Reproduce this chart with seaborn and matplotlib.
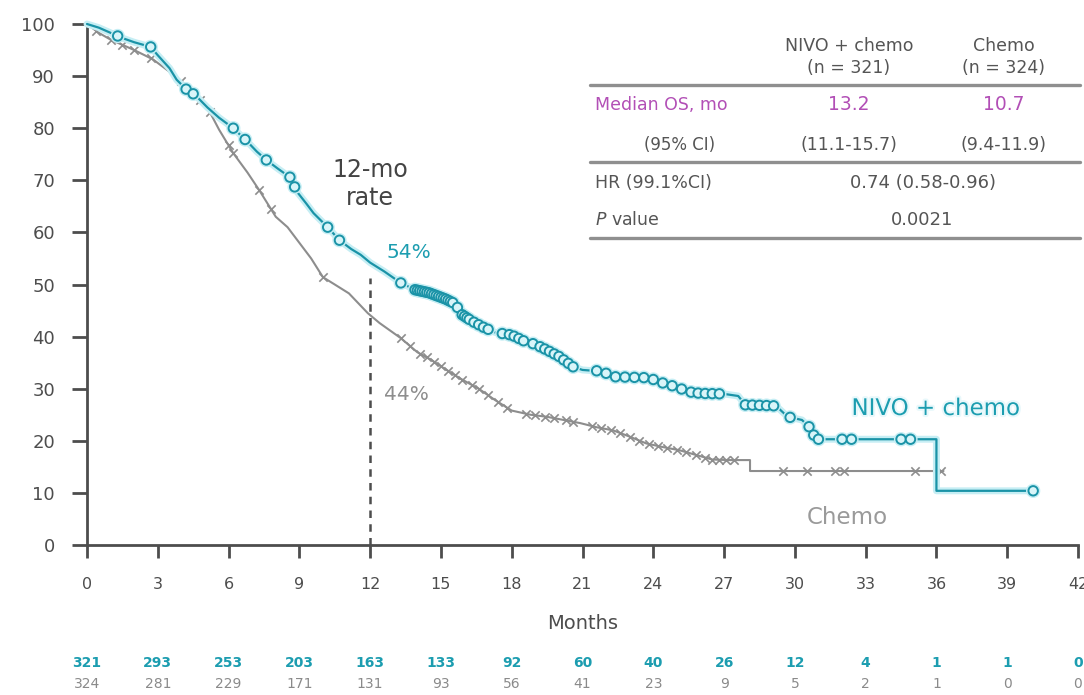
import numpy as np
import pandas as pd
import matplotlib
matplotlib.use("Agg")
import matplotlib.pyplot as plt
import matplotlib.patheffects as pe
from matplotlib.lines import Line2D
import seaborn as sns

# ---- Kaplan-Meier curve vertices (months, % surviving) ----
nivo_t = [0, 0.5, 1.0, 1.5, 2.0, 2.7, 3.0, 3.5, 3.8, 4.2, 4.6, 5.1, 5.6, 6.2, 6.8,
          7.2, 7.6, 8.1, 8.6, 8.9, 9.3, 9.6, 10.2, 10.7, 11.2, 11.6, 12.0, 12.6,
          13.3, 13.9, 14.5, 15.2, 15.6, 15.9, 16.3, 16.8, 17.3, 18.0, 18.5, 19.0,
          19.5, 20.0, 20.6, 21.0, 21.3, 21.8, 22.3, 23.0, 23.8, 24.4, 25.0, 25.5,
          26.0, 27.0, 27.6, 27.9, 29.2, 29.7, 30.3, 30.6, 30.9, 36.0, 36.0, 40.1]
nivo_s = [100, 99.3, 98.3, 97.3, 96.5, 95.6, 94.0, 91.5, 89.3, 87.5, 86.3, 84.0,
          82.0, 80.0, 77.4, 75.5, 73.9, 72.2, 70.6, 67.8, 65.5, 63.7, 61.0, 58.5,
          56.8, 55.7, 54.2, 52.5, 50.3, 49.0, 48.4, 47.2, 46.3, 44.2, 43.0, 41.8,
          40.8, 40.3, 39.2, 38.5, 37.4, 36.2, 34.2, 33.6, 33.5, 33.4, 32.3, 32.2,
          32.1, 31.1, 30.3, 29.4, 29.1, 29.0, 28.6, 26.9, 26.7, 24.6, 24.0, 22.7,
          20.3, 20.3, 10.4, 10.4]

chemo_t = [0, 0.5, 1.0, 2.0, 2.8, 3.8, 4.5, 5.1, 5.6, 6.2, 6.8, 7.3, 8.0, 8.5, 9.0,
           9.5, 10.0, 10.5, 11.1, 11.9, 12.4, 13.3, 14.0, 14.6, 15.1, 15.8, 16.6,
           17.3, 18.0, 18.8, 19.5, 20.2, 20.9, 21.6, 22.3, 23.0, 23.7, 24.4, 25.1,
           25.8, 26.5, 27.2, 28.1, 28.1, 36.3]
chemo_s = [100, 98.3, 97.0, 95.0, 93.2, 89.8, 87.0, 84.0, 79.7, 75.2, 71.5, 68.1,
           63.0, 61.0, 58.0, 55.0, 51.4, 50.0, 48.3, 44.5, 42.6, 39.7, 37.0, 35.5,
           34.0, 32.0, 30.0, 27.8, 25.8, 25.0, 24.6, 24.0, 23.4, 22.6, 22.0, 20.8,
           19.5, 18.8, 18.2, 17.3, 16.4, 16.3, 16.3, 14.2, 14.2]

# ---- censoring times ----
nivo_cens = [1.3, 2.7, 4.2, 4.5, 6.2, 6.7, 7.6, 8.6, 8.8, 10.2, 10.7, 13.3,
             13.9, 14.0, 14.1, 14.2, 14.3, 14.4, 14.5, 14.6, 14.7, 14.8, 14.9, 15.0,
             15.1, 15.2, 15.3, 15.4, 15.5, 15.7, 15.9, 16.0, 16.1, 16.2, 16.4, 16.6,
             16.8, 17.0, 17.6, 17.9, 18.1, 18.3, 18.5, 18.9, 19.2, 19.4, 19.6, 19.8,
             20.0, 20.2, 20.4, 20.6, 21.6, 22.0, 22.4, 22.8, 23.2, 23.6, 24.0, 24.4,
             24.8, 25.2, 25.6, 25.9, 26.2, 26.5, 26.8, 27.9, 28.2, 28.5, 28.8, 29.1,
             29.8, 30.6, 30.8, 31.0, 32.0, 32.4, 34.5, 34.9, 40.1]
chemo_cens = [0.4, 1.0, 1.5, 2.0, 2.7, 4.0, 4.8, 5.2, 6.0, 6.2, 7.3, 7.8, 10.0,
              13.3, 13.7, 14.1, 14.4, 14.7, 15.0, 15.3, 15.6, 15.9, 16.3, 16.6, 17.0,
              17.4, 17.8, 18.6, 19.0, 19.4, 19.8, 20.3, 20.6, 21.4, 21.8, 22.2, 22.6,
              23.0, 23.4, 23.8, 24.2, 24.6, 25.0, 25.4, 25.8, 26.2, 26.5, 26.8, 27.1,
              27.4, 29.5, 30.5, 31.7, 32.1, 35.1, 36.2]

# ---- numbers at risk ----
risk_months = list(range(0, 43, 3))
risk_nivo = [321, 293, 253, 203, 163, 133, 92, 60, 40, 26, 12, 4, 1, 1, 0]
risk_chemo = [324, 281, 229, 171, 131, 93, 56, 41, 23, 9, 5, 2, 1, 0, 0]

# ---- summary table ----
arm_labels = ["NIVO + chemo\n(n = 321)", "Chemo\n(n = 324)"]
median_os = ["13.2", "10.7"]
median_ci = ["(11.1-15.7)", "(9.4-11.9)"]
hr_text = "0.74 (0.58-0.96)"
p_text = "0.0021"
rate_12mo = (54, 44)

TEAL = "#1a93a7"
TEAL_TXT = "#1c9db0"
HALO = "#c6eef4"
GRAY = "#8d8d8d"
DARK = "#4d4d4d"
PURPLE = "#b24fb6"

sns.set_style("white")
plt.rcParams["font.family"] = ["DejaVu Sans"]

W, H = 1084, 695
fig = plt.figure(figsize=(W / 100, H / 100), dpi=100)
ax = fig.add_axes([87 / W, 150 / H, (1078 - 87) / W, (545 - 24) / H])


def P(px, py):
    return px / W, 1 - py / H


def curve_at(times, surv, when):
    """Value of a piecewise curve at given times; vertical drops take the lower value."""
    times = np.asarray(times, float)
    surv = np.asarray(surv, float)
    out = []
    for c in when:
        i = np.searchsorted(times, c, side="right") - 1
        if i >= len(times) - 1:
            out.append(surv[-1])
        else:
            t0, t1 = times[i], times[i + 1]
            f = 0.0 if t1 == t0 else (c - t0) / (t1 - t0)
            out.append(surv[i] + f * (surv[i + 1] - surv[i]))
    return out


nivo = pd.DataFrame({"t": nivo_t, "s": nivo_s})
chemo = pd.DataFrame({"t": chemo_t, "s": chemo_s})

# chemo arm
sns.lineplot(data=chemo, x="t", y="s", sort=False, estimator=None, ax=ax,
             color=GRAY, lw=1.5, clip_on=False)
cc = pd.DataFrame({"t": chemo_cens, "s": curve_at(chemo_t, chemo_s, chemo_cens)})
sns.scatterplot(data=cc, x="t", y="s", ax=ax, marker="x", s=36, color=GRAY,
                linewidth=1.2, clip_on=False, zorder=3)

# nivolumab arm
halo = [pe.Stroke(linewidth=5, foreground=HALO), pe.Normal()]
sns.lineplot(data=nivo, x="t", y="s", sort=False, estimator=None, ax=ax,
             color=TEAL, lw=1.6, clip_on=False, path_effects=halo, zorder=4)
nc = pd.DataFrame({"t": nivo_cens, "s": curve_at(nivo_t, nivo_s, nivo_cens)})
sns.scatterplot(data=nc, x="t", y="s", ax=ax, marker="o", s=46,
                facecolor="#d9f5f9", edgecolor=TEAL, linewidth=1.4, clip_on=False,
                zorder=5, path_effects=[pe.Stroke(linewidth=3.5, foreground=HALO),
                                        pe.Normal()])

# 12-month landmark
ax.plot([12, 12], [0, 51.2], ls=(0, (3, 2.5)), color=DARK, lw=1.8, zorder=2)
ax.text(12, 69.3, "12-mo\nrate", ha="center", va="center", fontsize=17,
        color="#444444", linespacing=1.2)
ax.text(12.7, rate_12mo[0] + 2.2, f"{rate_12mo[0]}%", ha="left", va="center",
        fontsize=14.5, color=TEAL_TXT)
ax.text(12.6, 28.8, f"{rate_12mo[1]}%", ha="left", va="center", fontsize=14.5,
        color=GRAY)

ax.text(32.4, 26.2, "NIVO + chemo", ha="left", va="center", fontsize=16.5,
        color=TEAL_TXT, path_effects=[pe.withStroke(linewidth=3, foreground="#e8f8fb")])
ax.text(30.5, 5.3, "Chemo", ha="left", va="center", fontsize=16.5, color="#9a9a9a")

# axes styling
ax.set_xlim(0, 42)
ax.set_ylim(0, 100)
ax.set_xticks(risk_months)
ax.set_yticks(range(0, 101, 10))
for side in ("top", "right"):
    ax.spines[side].set_visible(False)
for side in ("left", "bottom"):
    ax.spines[side].set_color(DARK)
    ax.spines[side].set_linewidth(2)
ax.tick_params(axis="y", direction="out", length=11, width=2, pad=12,
               labelsize=13, colors=DARK, left=True)
ax.tick_params(axis="x", direction="out", length=9, width=2, pad=14,
               labelsize=11.5, colors=DARK, bottom=True)
ax.set_xlabel("Months", fontsize=14, color=DARK, labelpad=16)
ax.set_ylabel("")

# numbers at risk, aligned under the month ticks
trans = ax.get_xaxis_transform()
ax_h = 545 - 24
for m, a, b in zip(risk_months, risk_nivo, risk_chemo):
    ax.text(m, -(663 - 545) / ax_h, str(a), transform=trans, ha="center",
            va="center", fontsize=10, color=TEAL_TXT, fontweight="bold")
    ax.text(m, -(684 - 545) / ax_h, str(b), transform=trans, ha="center",
            va="center", fontsize=10, color="#8a8a8a")

# summary table
col_x = [849, 1004]
for x, lab in zip(col_x, arm_labels):
    fig.text(*P(x, 57), lab, ha="center", va="center", fontsize=12.5,
             color="#555555", linespacing=1.3)
for y in (85, 162, 238):
    fig.add_artist(Line2D([590 / W, 1080 / W], [1 - y / H, 1 - y / H],
                          color="#8f8f8f", lw=2.4))
fig.text(*P(595, 105), "Median OS, mo", ha="left", va="center", fontsize=12.5,
         color=PURPLE)
fig.text(*P(680, 145), "(95% CI)", ha="center", va="center", fontsize=12,
         color="#555555")
for x, m, c in zip(col_x, median_os, median_ci):
    fig.text(*P(x, 105), m, ha="center", va="center", fontsize=13.5, color=PURPLE)
    fig.text(*P(x, 145), c, ha="center", va="center", fontsize=12.5, color="#555555")
fig.text(*P(595, 183), "HR (99.1%CI)", ha="left", va="center", fontsize=12.5,
         color="#555555")
fig.text(*P(923, 183), hr_text, ha="center", va="center", fontsize=13,
         color="#555555")
fig.text(*P(595, 220), r"$\mathit{P}$ value", ha="left", va="center",
         fontsize=12.5, color="#555555")
fig.text(*P(922, 220), p_text, ha="center", va="center", fontsize=13,
         color="#555555")

fig.savefig("out.png", dpi=100, facecolor="white")
